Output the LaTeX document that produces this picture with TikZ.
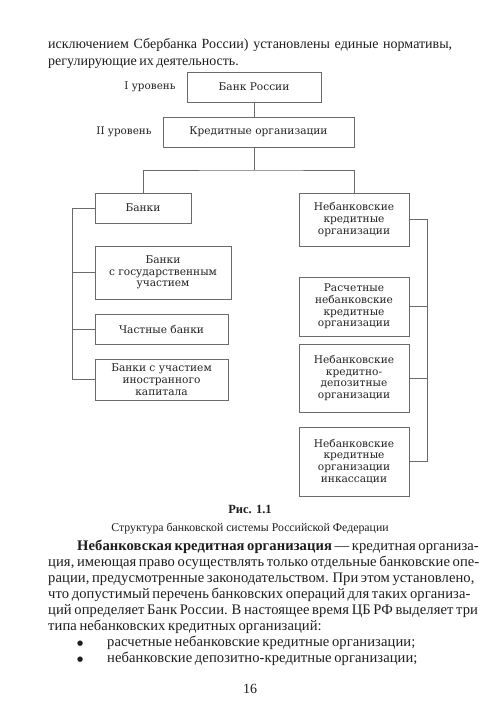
\documentclass[tikz,border=0pt]{standalone}
\usepackage{fontspec}
\setmainfont{Liberation Serif}
\newfontfamily\lsfont[LetterSpace=0.5]{Liberation Serif}
\newfontfamily\dfont{DejaVu Serif}
\newfontfamily\bulfont{DejaVu Sans}
\definecolor{linegray}{HTML}{6A6A6A}
\definecolor{boxtext}{HTML}{222222}
\definecolor{bodytext}{HTML}{1E1E1E}
\newcommand\jline[2]{\hbox to #1{\spaceskip=0.18em plus 1fil\relax #2}}
\tikzset{
  box/.style={draw=linegray, line width=0.6pt, text=boxtext, align=center, inner sep=0pt,
    font=\dfont\fontsize{10.6}{11.8}\selectfont},
  lvl/.style={text=boxtext, inner sep=0pt, font=\dfont\fontsize{10.4}{11.8}\selectfont},
  conn/.style={draw=linegray, line width=0.6pt},
  body/.style={anchor=base west, inner sep=0pt, text=bodytext, font=\fontsize{14}{16}\selectfont},
  lbody/.style={anchor=base west, inner sep=0pt, text=bodytext, font=\lsfont\fontsize{14.6}{16}\selectfont},
  bul/.style={anchor=base west, inner sep=0pt, text=bodytext, font=\bulfont\fontsize{7}{8}\selectfont},
  bodyc/.style={anchor=base, inner sep=0pt, text=bodytext},
}
\begin{document}
\begin{tikzpicture}[x=1pt,y=-1pt]
\useasboundingbox[fill=white] (0,0) rectangle (500,708);
% top text
\node[body] (t1) at (48,48.5) {\jline{404pt}{исключением Сбербанка России) установлены единые нормативы,}};
\node[body] (t2) at (48,65.5) {\jline{184pt}{регулирующие их деятельность.}};
% levels
\node[lvl] (l1) at (150,87) {I уровень};
\node[lvl] (l2) at (124,132) {II уровень};
% boxes
\node[box, minimum width=134pt, minimum height=30pt] (bank) at (254,87) {Банк России};
\node[box, minimum width=191pt, minimum height=30pt] (ko) at (258.5,132) {Кредитные организации};
\node[box, minimum width=96pt, minimum height=30pt] (banki) at (143,208) {Банки};
\node[box, minimum width=136pt, minimum height=53pt] (gos) at (163,272.5) {Банки\\с государственным\\участием};
\node[box, minimum width=133pt, minimum height=30pt] (chast) at (161.5,329) {Частные банки};
\node[box, minimum width=133pt, minimum height=41pt] (inos) at (161.5,379.5) {Банки с участием\\иностранного\\капитала};
\node[box, minimum width=110pt, minimum height=53pt] (nko) at (354,219.5) {Небанковские\\кредитные\\организации};
\node[box, minimum width=110pt, minimum height=59pt] (rasch) at (354,306.5) {Расчетные\\небанковские\\кредитные\\организации};
\node[box, minimum width=110pt, minimum height=68pt] (depo) at (354,378) {Небанковские\\кредитно-\\депозитные\\организации};
\node[box, minimum width=110pt, minimum height=69pt] (inkas) at (354,461.5) {Небанковские\\кредитные\\организации\\инкассации};
% connectors
\coordinate (split) at (254,170);
\coordinate (lb) at (72,379.5);
\coordinate (rb) at (427,461.5);
\draw[conn] (bank.south) -- (bank.south |- ko.north);
\draw[conn] (bank.south |- ko.south) -- (split);
\draw[conn] (banki.north) |- (split) -| (nko.north);
\draw[conn] (banki.west) -| (lb) -- (inos.west);
\draw[conn] (gos.west) -- (gos.west -| lb);
\draw[conn] (chast.west) -- (chast.west -| lb);
\draw[conn] (nko.east) -| (rb) -- (inkas.east);
\draw[conn] (rasch.east) -- (rasch.east -| rb);
\draw[conn] (depo.east) -- (depo.east -| rb);
% caption
\node[bodyc, font=\bfseries\fontsize{12.5}{14}\selectfont] (fig) at (250,513) {Рис. 1.1};
\node[bodyc, font=\fontsize{11.8}{14}\selectfont] (cap) at (250,531) {Структура банковской системы Российской Федерации};
% body paragraph
\node[lbody] (p1) at (77,550) {\jline{375pt}{\textbf{Небанковская кредитная организация} — кредитная организа-}};
\node[lbody] (p2) at (48,566.1) {\jline{404pt}{ция, имеющая право осуществлять только отдельные банковские опе-}};
\node[lbody] (p3) at (48,582.2) {\jline{404pt}{рации, предусмотренные законодательством. При этом установлено,}};
\node[lbody] (p4) at (48,598.3) {\jline{404pt}{что допустимый перечень банковских операций для таких организа-}};
\node[lbody] (p5) at (48,614.4) {\jline{404pt}{ций определяет Банк России. В настоящее время ЦБ РФ выделяет три}};
\node[lbody] (p6) at (48,630.5) {\jline{254pt}{типа небанковских кредитных организаций:}};
\node[bul] (b1) at (77,645.6) {●};
\node[lbody] (p7) at (107,646.6) {\jline{281pt}{расчетные небанковские кредитные организации;}};
\node[bul] (b2) at (77,661.7) {●};
\node[lbody] (p8) at (107,662.7) {\jline{286pt}{небанковские депозитно-кредитные организации;}};
\node[bodyc, font=\fontsize{14}{16}\selectfont] (pg) at (250,693) {16};
\end{tikzpicture}
\end{document}
